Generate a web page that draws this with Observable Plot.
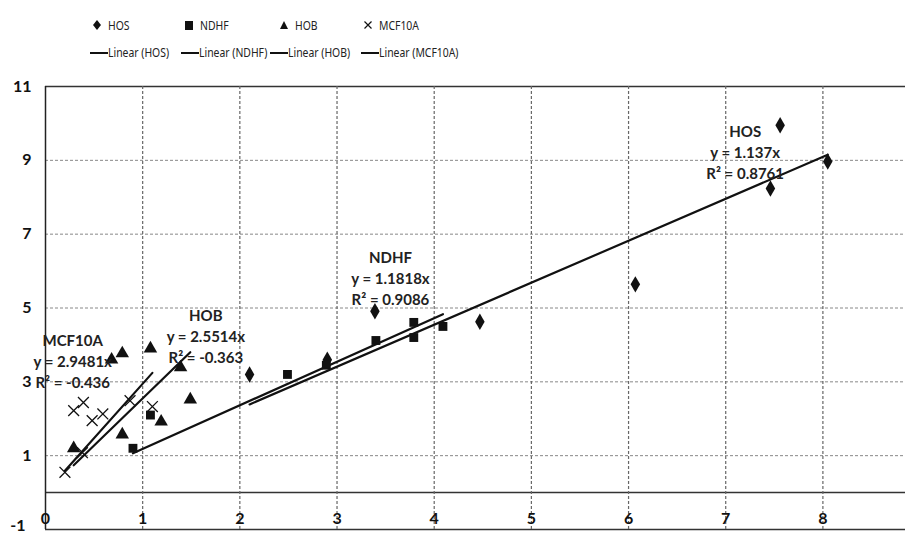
<!DOCTYPE html>
<html>
<head>
<meta charset="utf-8">
<script src="https://cdn.jsdelivr.net/npm/d3@7"></script>
<script src="https://cdn.jsdelivr.net/npm/@observablehq/plot@0.6"></script>
<style>
  html, body { margin: 0; padding: 0; background: #fff; }
  body { width: 909px; height: 533px; overflow: hidden; font-family: Lato, "Open Sans", sans-serif; }
  #legend { position: relative; height: 70px; width: 909px; font-size: 13px; color: #222;
            font-family: "Noto Sans", sans-serif; }
  .item { position: absolute; display: flex; align-items: center; white-space: nowrap; }
  .item span { display: inline-block; transform: scaleX(0.8); transform-origin: left center; }
  #chart svg { display: block; }
</style>
</head>
<body>
<div id="legend"></div>
<div id="chart"></div>
<script>
// ---- data ----
const series = ["HOS", "NDHF", "HOB", "MCF10A"];
const hosX  = [2.10, 2.90, 3.39, 4.47, 6.07, 7.46, 7.56, 8.05];
const hosY  = [3.20, 3.60, 4.91, 4.63, 5.64, 8.24, 9.95, 8.97];
const ndhfX = [0.90, 1.08, 2.49, 2.89, 3.40, 3.79, 3.79, 4.09];
const ndhfY = [1.20, 2.10, 3.20, 3.45, 4.12, 4.61, 4.20, 4.50];
const hobX  = [0.29, 0.68, 0.79, 0.79, 1.08, 1.19, 1.39, 1.49];
const hobY  = [1.20, 3.60, 3.77, 1.57, 3.90, 1.92, 3.39, 2.52];
const mcfX  = [0.20, 0.29, 0.38, 0.39, 0.48, 0.59, 0.87, 1.10];
const mcfY  = [0.55, 2.22, 1.08, 2.44, 1.95, 2.13, 2.49, 2.33];
const slopes = [1.137, 1.1818, 2.5514, 2.9481];
const r2 = ["0.8761", "0.9086", "-0.363", "-0.436"];
const eqText = ["y = 1.137x", "y = 1.1818x", "y = 2.5514x", "y = 2.9481x"];
// label anchor (data units) for each series annotation
const labelX = [7.20, 3.55, 1.65, 0.28];
const labelY = [9.20, 5.78, 4.20, 3.52];
const yTicks = [1, 3, 5, 7, 9, 11];
const xTicks = [0, 1, 2, 3, 4, 5, 6, 7, 8];
const symbols = ["diamond", "square", "triangle", "times"];

// ---- build tables ----
const xs = [hosX, ndhfX, hobX, mcfX], ys = [hosY, ndhfY, hobY, mcfY];
const points = [];
series.forEach((s, i) => xs[i].forEach((x, j) => points.push({s, x, y: ys[i][j], sym: symbols[i]})));
const trend = [];
series.forEach((s, i) => {
  const [lo, hi] = d3.extent(xs[i]);
  trend.push({s, x: lo, y: slopes[i] * lo}, {s, x: hi, y: slopes[i] * hi});
});
const labels = series.map((s, i) => ({x: labelX[i], y: labelY[i], name: s, eq: eqText[i], r: "R² = " + r2[i]}));

const font = "Lato, 'Open Sans', sans-serif";
const lab = {x: "x", y: "y", fontSize: 15, fontWeight: "bold", fill: "#222"};
const chart = Plot.plot({
  width: 909,
  height: 463,
  marginTop: 16,
  marginBottom: 4,
  marginLeft: 45,
  marginRight: 4,
  style: {fontFamily: font, background: "#fff"},
  x: {domain: [0, 8.85], axis: null},
  y: {domain: [-1, 11], axis: null},
  marks: [
    // horizontal gridlines
    Plot.ruleY([1, 3, 5, 7, 9], {stroke: "#888", strokeDasharray: "3,2", strokeWidth: 1}),
    Plot.ruleY([11, -1], {stroke: "#333", strokeWidth: 1.5}),
    Plot.ruleY([0], {stroke: "#333", strokeWidth: 1.5}),
    // vertical gridlines
    Plot.ruleX(xTicks.slice(1), {stroke: "#666", strokeDasharray: "3,2", strokeWidth: 1.2}),
    Plot.ruleX([0], {stroke: "#222", strokeWidth: 1.5}),
    // y tick labels
    Plot.text(yTicks, {x: 0, y: d => d, text: d => String(d), textAnchor: "end", dx: -14, fontSize: 16, fontWeight: "bold", fill: "#111"}),
    Plot.text([-1], {x: 0, y: d => d, text: d => String(d), textAnchor: "end", dx: -20, dy: -4, fontSize: 16, fontWeight: "bold", fill: "#111"}),
    // x tick labels (below the y=0 line)
    Plot.text(xTicks, {x: d => d, y: 0, text: d => String(d), dy: 26, fontSize: 16, fontWeight: "bold", fill: "#111"}),
    // trend lines
    Plot.line(trend, {x: "x", y: "y", z: "s", stroke: "#111", strokeWidth: 2.2}),
    // points
    Plot.dot(points.filter(d => d.sym !== "times"), {x: "x", y: "y", symbol: "sym", fill: "#111", r: 5}),
    Plot.dot(points.filter(d => d.sym === "times"), {x: "x", y: "y", symbol: "times", stroke: "#111", strokeWidth: 1.3, r: 5}),
    // annotations
    Plot.text(labels, {...lab, text: "name", dy: -21}),
    Plot.text(labels, {...lab, text: "eq", dy: 0}),
    Plot.text(labels, {...lab, text: "r", dy: 21}),
  ]
});
document.getElementById("chart").appendChild(chart);

// ---- legend ----
const legend = document.getElementById("legend");
const symSvg = {
  diamond: '<svg width="10" height="12"><path d="M5 1 L9 6 L5 11 L1 6 Z" fill="#111"/></svg>',
  square: '<svg width="10" height="12"><rect x="1" y="2" width="8" height="9" fill="#111"/></svg>',
  triangle: '<svg width="10" height="12"><path d="M5 2 L9 10 L1 10 Z" fill="#111"/></svg>',
  times: '<svg width="10" height="12"><path d="M1.5 2.5 L8.5 9.5 M8.5 2.5 L1.5 9.5" stroke="#111" stroke-width="1.2"/></svg>'
};
const row1Left = [92, 184, 279, 363];
const row2Left = [90, 181, 270, 361];
series.forEach((s, i) => {
  const a = document.createElement("div");
  a.className = "item";
  a.style.left = row1Left[i] + "px";
  a.style.top = "16px";
  a.innerHTML = symSvg[symbols[i]] + '<span style="margin-left:6px">' + s + '</span>';
  legend.appendChild(a);
  const b = document.createElement("div");
  b.className = "item";
  b.style.left = row2Left[i] + "px";
  b.style.top = "43px";
  b.innerHTML = '<svg width="18" height="12"><line x1="0" y1="7" x2="18" y2="7" stroke="#111" stroke-width="2"/></svg><span>Linear (' + s + ')</span>';
  legend.appendChild(b);
});
</script>
</body>
</html>
